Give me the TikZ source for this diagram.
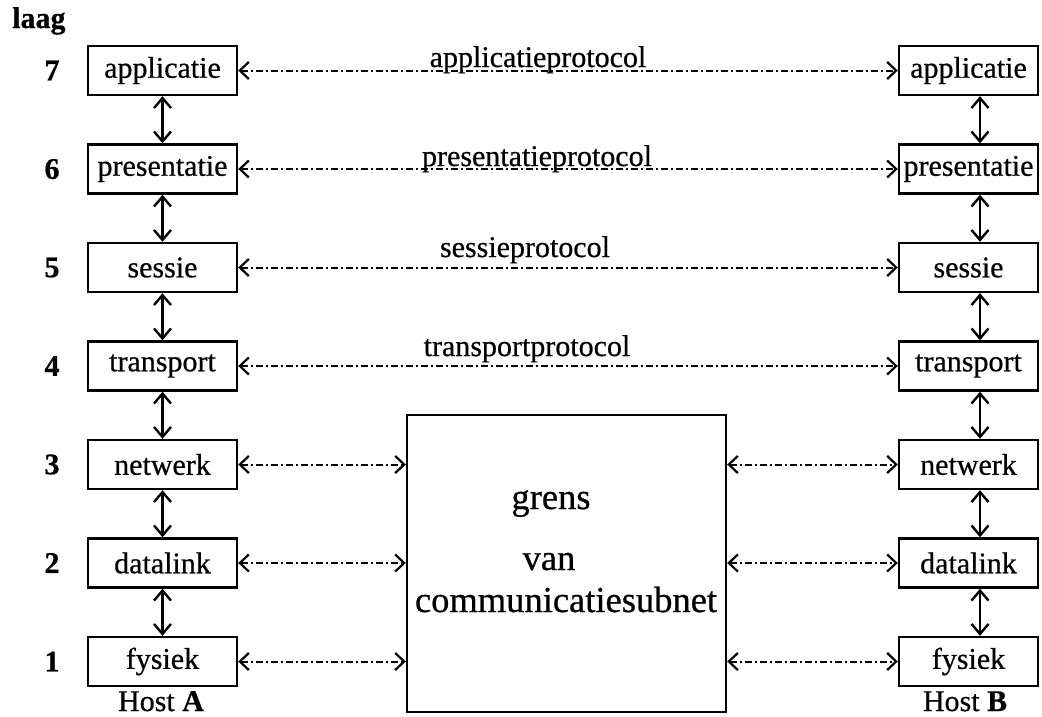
\documentclass[tikz,border=0pt]{standalone}
\usepackage{fontspec}
\setmainfont{Liberation Serif}[FakeBold=0.6]
\usetikzlibrary{arrows.meta}
\begin{document}
\begin{tikzpicture}[x=1pt,y=-1pt,
  layer/.style={draw,line width=2.4pt,minimum height=49pt,inner sep=0pt,font=\fontsize{30}{36}\selectfont},
  lbox/.style={layer,minimum width=149pt},
  rbox/.style={layer,minimum width=139pt},
  vlink/.style={line width=2.4pt,{Straight Barb[length=10pt,width=17pt,line width=2.4pt]}-{Straight Barb[length=10pt,width=17pt,line width=2.4pt]}},
  peer/.style={line width=2pt,dash pattern=on 7pt off 3pt on 2pt off 3pt,{Straight Barb[length=9pt,width=17pt,line width=2.2pt]}-{Straight Barb[length=9pt,width=17pt,line width=2.2pt]}},
  lbl/.style={anchor=base,inner sep=0pt,font=\fontsize{30}{36}\selectfont},
  big/.style={anchor=base,inner sep=0pt,font=\fontsize{36.5}{44}\selectfont}]
\useasboundingbox (0,0) rectangle (1042,716);

\node[lbl,anchor=base west,font=\fontsize{30}{36}\selectfont\bfseries] (laag) at (12,28) {laag};

\foreach \n/\t/\y in {7/applicatie/70.5,6/presentatie/169,5/sessie/267.5,4/transport/366,3/netwerk/464.5,2/datalink/563,1/fysiek/661.5}{
  \node[lbox] (l\n) at (162.5,\y) {\t};
  \node[rbox] (r\n) at (968.5,\y) {\t};
  \node[lbl,anchor=center,font=\fontsize{30}{36}\selectfont\bfseries] (num\n) at (52,\y) {\n};
}

\node[draw,line width=2.4pt,minimum width=319pt,minimum height=297pt,inner sep=0pt] (sub) at (566.5,563.5) {};

\node[big] (g1) at (551,509) {grens};
\node[big] (g2) at (549,570) {van};
\node[big] (g3) at (566,612) {communicatiesubnet};

\node[lbl] (hA) at (161,711) {Host \textbf{A}};
\node[lbl] (hB) at (965,711) {Host \textbf{B}};

\node[lbl] (p7) at (538,67) {applicatieprotocol};
\node[lbl] (p6) at (537,166) {presentatieprotocol};
\node[lbl] (p5) at (525,257) {sessieprotocol};
\node[lbl] (p4) at (527,356) {transportprotocol};

\foreach \a/\b in {7/6,6/5,5/4,4/3,3/2,2/1}{
  \draw[vlink] (l\a.south) -- (l\b.north);
  \draw[vlink] ([xshift=11.5pt]r\a.south) -- ([xshift=11.5pt]r\b.north);
}

\foreach \n in {7,6,5,4}{
  \draw[peer] (l\n.east) -- (r\n.west);
}
\foreach \n in {3,2,1}{
  \draw[peer] (l\n.east) -- (l\n.east -| sub.west);
  \draw[peer] (r\n.west -| sub.east) -- (r\n.west);
}
\end{tikzpicture}
\end{document}
